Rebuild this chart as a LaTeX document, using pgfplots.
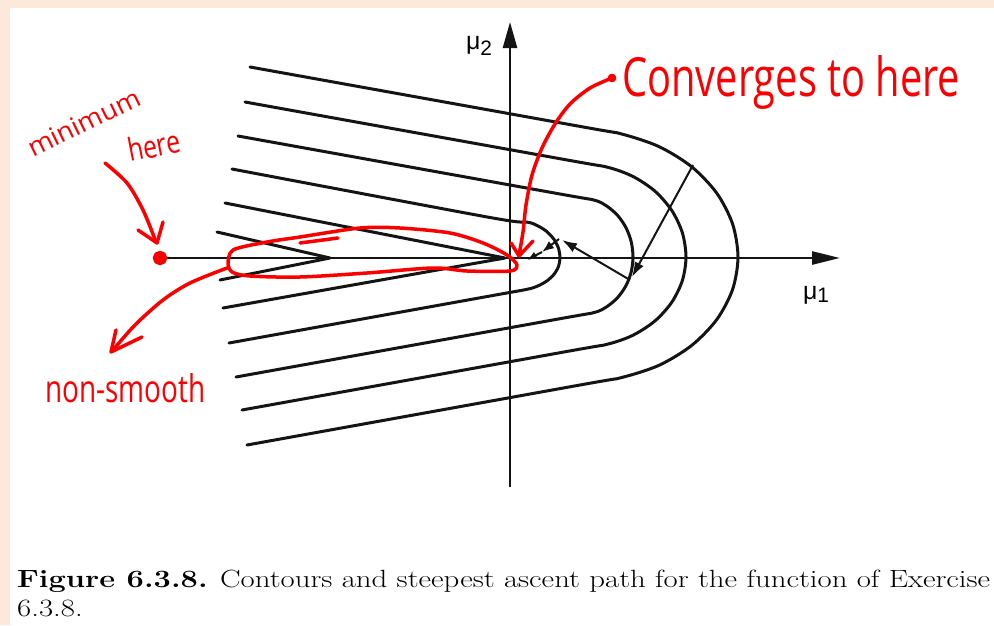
\documentclass[border=0pt]{standalone}
\usepackage{pgfplots}
\pgfplotsset{compat=1.18}
\usepackage{fontspec}
\usetikzlibrary{arrows.meta}
\newfontfamily\labfont{Liberation Sans}
\newfontfamily\handfont{Open Sans}
\definecolor{peach}{RGB}{252,233,219}
\definecolor{ink}{RGB}{20,20,20}
\definecolor{penred}{RGB}{250,0,0}

\begin{document}
\begin{tikzpicture}
\begin{axis}[
  width=994bp, height=625bp, scale only axis,
  xmin=0, xmax=994, ymin=0, ymax=625, y dir=reverse,
  hide axis, clip=false,
  contour/.style={ink, line width=3bp, line join=round, line cap=round},
  ascent/.style={ink, line width=2bp, -{Latex[length=15bp,width=10bp]}},
  note/.style={penred, line width=3.5bp, line cap=round, line join=round},
]
% page background and white sheet
\addplot[fill=peach, draw=none] coordinates {(0,0) (994,0) (994,625) (0,625)} -- cycle;
\addplot[fill=white, draw=none] coordinates {(10,8) (994,8) (994,625) (10,625)} -- cycle;

% coordinate axes
\addplot[ink, line width=2.5bp, -{Triangle[length=28bp,width=13bp]}] coordinates {(165,258) (840,258)};
\addplot[ink, line width=2.5bp, -{Triangle[length=26bp,width=14bp]}] coordinates {(510,487) (510,22)};

% contours: two kinked inner ones, four rounded outer ones
\addplot[contour] coordinates {(217,232) (330,258) (220,280)};
\addplot[contour] coordinates {(225,203) (505,258) (223,308)};
\addplot[contour, smooth] coordinates {(232,169) (490,217.5) (526.6,222) (537.5,225.7) (546.8,231.6) (554,239.4) (558.5,248.3) (560,258)
  (558.5,266.4) (554,274.3) (546.8,281) (537.5,286.1) (526.6,289.4) (490,296) (229,343)};
\addplot[contour, smooth] coordinates {(238,136) (555,193.1) (593.7,200) (606.5,205.9) (617.5,215.3) (625.9,227.5) (631.2,241.7) (633,257)
  (631.2,271.9) (625.9,285.8) (617.5,297.7) (606.5,306.9) (593.7,312.6) (555,319.6) (236,377)};
\addplot[contour, smooth] coordinates {(245,102) (565,159.6) (607.4,167.2) (633,176.5) (655,191.2) (671.8,210.5) (682.4,232.9) (686,257)
  (682.4,280.4) (671.8,302.2) (655,320.9) (633,335.2) (607.4,344.2) (565,351.8) (242,410)};
\addplot[contour, smooth] coordinates {(250,67) (580,126.4) (620.9,133.8) (659,146.6) (691.7,166.8) (716.8,193.2) (732.6,224) (738,257)
  (732.6,289.4) (716.8,319.5) (691.7,345.4) (659,365.3) (620.9,377.7) (580,385) (247,445)};

% steepest ascent path
\addplot[ascent] coordinates {(693,165) (632,277)};
\addplot[ascent] coordinates {(630,280) (562,240)};
\addplot[ascent, -{Latex[length=12bp,width=9bp]}] coordinates {(559,239) (542,252)};
\addplot[ascent, -{Latex[length=10bp,width=8bp]}] coordinates {(542,252) (527,260)};

\node[font=\labfont\fontsize{25}{25}\selectfont, inner sep=0pt, anchor=base] at (axis cs:479,49) {μ\raisebox{-6bp}{\fontsize{21}{21}\selectfont 2}};
\node[font=\labfont\fontsize{25}{25}\selectfont, inner sep=0pt, anchor=base] at (axis cs:816,299) {μ\raisebox{-3bp}{\fontsize{21}{21}\selectfont 1}};

% red notes
\addplot[note, only marks, mark=*, mark size=5.5bp] coordinates {(160,258)};
\addplot[note, smooth] coordinates {(105,163) (127,183) (143,210) (156,242)};
\addplot[note] coordinates {(138,230) (157,243) (163,222)};
\addplot[note, smooth] coordinates {(228,264) (233,250) (267,242) (300,237) (360,228) (400,228) (450,233) (483,243) (507,255) (517,265) (510,271) (467,271) (433,268) (367,273) (300,277) (250,276) (232,272) (228,264)};
\addplot[note] coordinates {(300,243) (338,238)};
\addplot[note, smooth] coordinates {(227,268) (190,283) (163,300) (135,325) (113,350)};
\addplot[note] coordinates {(116,330) (111,352) (142,337)};
\addplot[note, only marks, mark=*, mark size=2.5bp] coordinates {(612,78)};
\addplot[note, smooth] coordinates {(612,78) (590,88) (570,104) (555,124) (542,148) (532,175) (526,205) (523,232) (519,255)};
\addplot[note] coordinates {(511,243) (519,256) (533,241)};

\node[penred, inner sep=0pt, anchor=base west] at (axis cs:622,96) {\resizebox{338bp}{41bp}{\handfont Converges to here}};
\node[penred, inner sep=0pt, anchor=base west, rotate=26] at (axis cs:33,158) {\resizebox{122bp}{19bp}{\handfont minimum}};
\node[penred, inner sep=0pt, anchor=base west, rotate=11] at (axis cs:130,162) {\resizebox{53bp}{24bp}{\handfont here}};
\node[penred, inner sep=0pt, anchor=base west] at (axis cs:45,402) {\resizebox{160bp}{29bp}{\handfont non-smooth}};

% caption
\node[inner sep=0pt, anchor=base west] at (axis cs:17,587) {\resizebox{973bp}{\height}{\fontsize{25}{30}\selectfont\begin{tabular}[t]{@{}l@{}}\textbf{Figure 6.3.8.} Contours and steepest ascent path for the function of Exercise\\ 6.3.8.\end{tabular}}};
\end{axis}
\end{tikzpicture}
\end{document}
